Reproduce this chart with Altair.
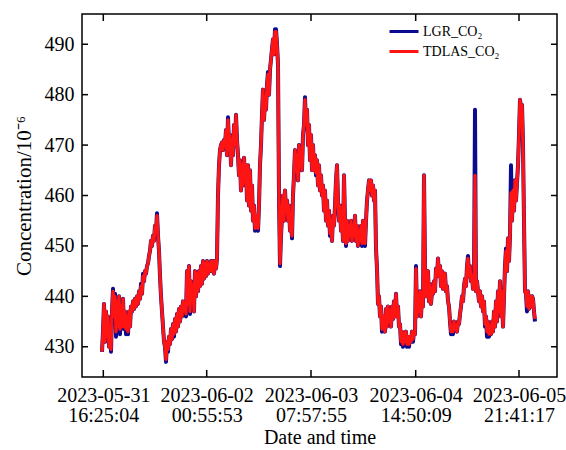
import altair as alt
import pandas as pd

# ---------------- data ----------------
sample_step = 10  # one plotted point every 10 samples

tdlas_co2 = [
    429, 433, 438.5, 431, 437, 432, 436, 430, 434, 429.5,
    437, 441, 436, 440, 433, 439, 434, 440, 433.5, 438,
    434, 439.5, 434, 437, 433.5, 436, 433, 437, 434, 438,
    437, 439, 437.5, 439.5, 438, 440, 438.5, 441, 439.5, 442,
    440.5, 444, 443, 445, 444.5, 446, 446.5, 448, 449, 451,
    450, 452, 451, 454, 453, 456, 452, 449, 444, 440,
    437, 434, 431, 430, 427.5, 431, 429.5, 432, 430.5, 433.5,
    431.5, 434.5, 432.5, 435.5, 433, 436.5, 434, 437.5, 435, 438,
    436, 439, 437.5, 438, 436.5, 445, 438.5, 446, 437, 443,
    440, 442, 437, 445, 440, 444.5, 441, 445, 442, 446,
    442.5, 447, 443.5, 446.5, 444, 447, 444.5, 446.5, 445, 447,
    445, 447, 444.5, 447, 445.5, 447.5, 460, 466, 469, 470,
    470.5, 469, 471, 470, 473, 468, 475, 470, 472, 466,
    471, 468, 474, 470, 476, 471, 468, 464, 467, 461,
    466, 462, 467.5, 463, 466, 459, 466, 458, 465, 457,
    462, 455, 458, 453.5, 456, 454, 453.5, 458, 466, 470,
    476, 481, 475, 479, 477, 482, 484, 480, 485, 487,
    489, 491, 488, 492.5, 492.5, 490, 486, 460, 446.5, 452,
    456, 460, 455, 461, 457, 459, 455, 458, 453, 456,
    452, 460, 464, 469, 465, 468, 463, 470, 466, 468,
    465, 472, 474, 479, 474, 477, 470, 474, 467, 472,
    465, 470, 465, 468, 464.5, 467, 462, 466, 461, 464,
    460, 462, 457, 461, 455, 459, 454, 457, 452.5, 455,
    451, 456, 454, 458, 463, 466, 459, 455, 458, 453,
    456, 451, 464, 455, 450.5, 455, 451, 454, 452, 455,
    451, 454, 452, 456, 451, 454, 450, 453, 451, 454,
    450.5, 455, 451, 450.5, 455, 459, 461, 463, 461, 463,
    460, 462, 459, 461, 449.5, 445.5, 438.5, 440, 436, 438,
    433.5, 434, 436, 433, 437.5, 434, 438, 435, 437, 434,
    438, 435.5, 439, 436, 440.5, 436, 438, 434, 434.5, 431,
    433, 430.5, 432.5, 431, 433, 430.5, 432, 430.5, 432, 431,
    433, 431.5, 433, 432.5, 445.5, 436, 440, 437, 441, 436,
    440, 438, 464, 446, 440, 444, 445, 439, 442.5, 438.5,
    441, 440.5, 443, 441, 445.5, 444, 447.5, 444, 446, 442,
    445, 441.5, 444, 444.5, 441, 442, 439, 438, 435, 433,
    434, 433, 435, 433.5, 434, 433, 435, 434.5, 436.5, 438,
    440, 439, 442, 443.5, 442, 446, 447.5, 444, 446, 443,
    444, 441.5, 443, 464, 441, 443, 441, 439, 441, 438,
    440, 437, 439, 434.5, 436, 433, 435, 432.5, 434, 432.5,
    435, 433, 437, 434, 439, 435, 441, 437, 443, 436,
    441, 434, 440, 446, 449, 445, 451.5, 447, 452, 460.5,
    455, 461, 457, 463, 459, 462.5, 466, 472, 479, 477,
    478, 470, 455, 441, 440.5, 438, 441, 437.5, 440, 438,
    440, 439.5, 437, 435.5,
]

lgr_co2 = [
    429, 433, 438.5, 431, 437, 432, 436, 430, 434, 429,
    437, 441.5, 436, 440.5, 432, 439, 434, 440, 432.5, 438,
    434, 439.5, 433.5, 437, 432.5, 436, 432.5, 437, 434, 438,
    437, 439, 437.5, 439.5, 438, 440, 438.5, 441, 439.5, 442.5,
    440.5, 444.5, 443, 445, 444.5, 446, 446.5, 448, 449, 451,
    450, 452, 451, 454, 453, 456.5, 452, 449, 444, 440,
    437, 434, 431, 430, 427, 431, 429, 432, 430.5, 433.5,
    431.5, 434.5, 432, 435.5, 433, 436.5, 434, 437.5, 435, 438,
    436, 439, 437.5, 438, 436, 445, 438.5, 446, 436.5, 443,
    440, 442, 437, 445, 440, 444.5, 441, 445, 442, 446,
    442.5, 447, 443.5, 446.5, 444, 447, 444.5, 446.5, 445, 447,
    445, 447, 444.5, 447, 445.5, 447.5, 460, 466, 469, 470,
    470.5, 469, 471, 470, 473, 468, 475.5, 470, 472, 466,
    471, 468, 474, 470, 476, 471, 468, 464, 467, 461,
    466, 462, 467.5, 463, 466, 459, 466, 458, 465, 457,
    462, 455, 458, 453, 456, 454, 453, 458, 466, 470,
    476, 481, 475, 479, 477, 482, 484.5, 480, 485, 487,
    489, 491, 488, 493, 493, 490, 486, 460, 446, 452,
    456, 460, 455, 461, 457, 459, 455, 458, 453, 456,
    451.5, 460, 464, 469, 465, 468, 463, 470, 466, 468,
    465, 472, 474, 479.5, 474, 477, 470, 474, 467, 472,
    465, 470, 465, 468, 464, 467, 462, 466, 461, 464,
    460, 462, 457, 461, 455, 459, 454, 457, 452, 455,
    451, 456, 454, 458, 463, 466, 459, 455, 458, 453,
    456, 451, 464, 455, 450, 455, 451, 454, 452, 455,
    451, 454, 452, 456, 451, 454, 450, 453, 451, 454,
    450, 455, 451, 450, 455, 459, 461, 463, 461, 463,
    460, 462, 459, 461, 449.5, 445.5, 438.5, 440, 436, 438,
    433, 434, 436, 433, 437.5, 434, 438, 435, 437, 434,
    438, 435.5, 439, 436, 440.5, 436, 438, 434, 434.5, 430.5,
    433, 430, 432.5, 431, 433, 430, 432, 430, 432, 431,
    433, 431, 433, 432.5, 446, 436, 440, 437, 441, 436,
    440, 438, 464, 446, 440, 444, 445, 439, 442.5, 438.5,
    441, 440.5, 443, 441, 445.5, 444, 447.5, 444, 446, 442,
    445, 441.5, 444, 444.5, 441, 442, 439, 438, 435, 432.5,
    434, 432.5, 435, 433.5, 434, 433, 435, 434.5, 436.5, 438,
    440, 439, 442, 443.5, 442, 446, 448, 444, 446, 443,
    444, 441.5, 443, 477, 441, 443, 441, 439, 441, 438,
    440, 437, 439, 434, 436, 432, 435, 432, 434, 432.5,
    435, 433, 437, 434, 439, 435, 441, 437, 443, 436,
    441, 434, 440, 446, 449.5, 445, 451.5, 447, 452, 466,
    455, 461, 457, 463, 459, 462.5, 466, 472, 479, 477.5,
    478, 470, 455, 441, 440.5, 437, 441, 437.5, 440, 438,
    440, 439.5, 437, 435,
]

series_names = ["LGR_CO₂", "TDLAS_CO₂"]
series_colors = ["#0b0b8f", "#ff1414"]

tick_samples = [13, 1047, 2090, 3137, 4170]
tick_dates = ["2023-05-31", "2023-06-02", "2023-06-03", "2023-06-04", "2023-06-05"]
tick_times = ["16:25:04", "00:55:53", "07:57:55", "14:50:09", "21:41:17"]
y_ticks = [430, 440, 450, 460, 470, 480, 490]

x_domain = [-200, 4550]
y_domain = [424, 496]

# ---------------- tables ----------------
rows = []
for name, vals in zip(series_names, [lgr_co2, tdlas_co2]):
    for i, v in enumerate(vals):
        rows.append({"sample": i * sample_step, "value": v, "series": name})
df = pd.DataFrame(rows)
ticks_x = pd.DataFrame({"sample": tick_samples})
ticks_y = pd.DataFrame({"value": y_ticks})

W, H = 475, 363
FONT = "Liberation Serif"

label_expr = ""
for s, d, t in zip(tick_samples, tick_dates, tick_times):
    label_expr += f"datum.value == {s} ? ['{d}', '{t}'] : "
label_expr += "''"

xscale = alt.Scale(domain=x_domain, nice=False, zero=False)
yscale = alt.Scale(domain=y_domain, nice=False, zero=False)
cscale = alt.Scale(domain=series_names, range=series_colors)

x_axis = alt.Axis(
    values=tick_samples, labelExpr=label_expr, labelFont=FONT, labelFontSize=20,
    labelLineHeight=20, labelColor="black", labelPadding=8, labelFlush=False,
    labelOverlap=False, ticks=False, domain=False, grid=False,
    title="Date and time", titleFont=FONT, titleFontSize=20, titleFontWeight="normal",
    titleColor="black", titlePadding=2,
)
y_axis = alt.Axis(
    values=y_ticks, labelFont=FONT, labelFontSize=20, labelColor="black",
    labelPadding=8, ticks=False, domain=False, grid=False,
    title="Concentration/10⁻⁶", titleFont=FONT, titleFontSize=21,
    titleFontWeight="normal", titleColor="black", titlePadding=10,
)
legend = alt.Legend(
    title=None, orient="none", legendX=306, legendY=8, symbolType="stroke",
    symbolSize=841, symbolStrokeWidth=3, labelFont=FONT, labelFontSize=14,
    labelColor="black", labelOffset=3, clipHeight=19, rowPadding=1, padding=0,
)

base = alt.Chart(df).encode(
    x=alt.X("sample:Q", scale=xscale, axis=x_axis),
    y=alt.Y("value:Q", scale=yscale, axis=y_axis),
    color=alt.Color("series:N", scale=cscale, legend=legend),
)
blue = base.transform_filter(alt.datum.series == series_names[0]).mark_line(
    strokeWidth=4.0, strokeJoin="round")
red = base.transform_filter(alt.datum.series == series_names[1]).mark_line(
    strokeWidth=3.3, strokeJoin="round")

tick_style = dict(color="black", strokeWidth=1.5)
xt = alt.Chart(ticks_x)
yt = alt.Chart(ticks_y)
bottom_ticks = xt.mark_rule(**tick_style).encode(
    x=alt.X("sample:Q", scale=xscale, axis=x_axis), y=alt.value(H), y2=alt.value(H - 7))
top_ticks = xt.mark_rule(**tick_style).encode(
    x=alt.X("sample:Q", scale=xscale, axis=x_axis), y=alt.value(0), y2=alt.value(7))
left_ticks = yt.mark_rule(**tick_style).encode(
    y=alt.Y("value:Q", scale=yscale, axis=y_axis), x=alt.value(0), x2=alt.value(6))
right_ticks = yt.mark_rule(**tick_style).encode(
    y=alt.Y("value:Q", scale=yscale, axis=y_axis), x=alt.value(W), x2=alt.value(W - 6))

chart = alt.layer(
    blue, red, bottom_ticks, top_ticks, left_ticks, right_ticks
).properties(
    width=W, height=H,
    autosize=alt.AutoSizeParams(type="none"),
    padding={"left": 82, "top": 14, "right": 9, "bottom": 73},
    background="white",
).configure_view(stroke="black", strokeWidth=1.5)

chart.save("out.html", embed_options={"renderer": "svg", "actions": False})
